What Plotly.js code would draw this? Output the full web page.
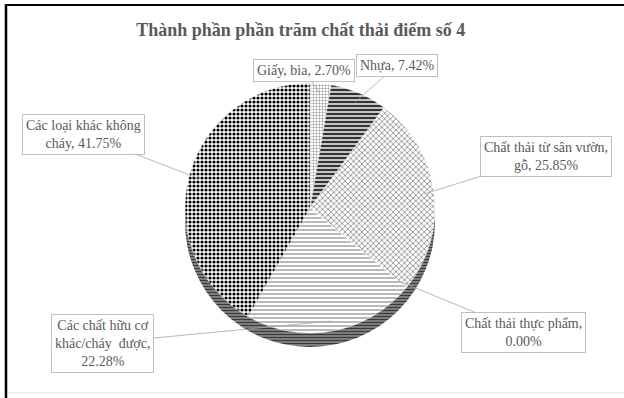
<!DOCTYPE html>
<html>
<head>
<meta charset="utf-8">
<script src="https://cdn.plot.ly/plotly-3.0.1.min.js"></script>
<style>html,body{margin:0;padding:0;background:#fff;}#chart{width:624px;height:398px;}</style>
</head>
<body>
<div id="chart"></div>
<script>
// ---- data ----
const categories = ["Giấy, bìa", "Nhựa", "Chất thải từ sân vườn, gỗ", "Chất thải thực phẩm", "Các chất hữu cơ khác/cháy được", "Các loại khác không cháy"];
const values = [2.70, 7.42, 25.85, 0.00, 22.28, 41.75];
const labelTexts = ["Giấy, bìa, 2.70%", "Nhựa, 7.42%", "Chất thải từ sân vườn,<br>gỗ, 25.85%", "Chất thải thực phẩm,<br>0.00%", "Các chất hữu cơ<br>khác/cháy  được,<br>22.28%", "Các loại khác không<br>cháy, 41.75%"];
const title = "Thành phần phần trăm chất thải điểm số 4";

// ---- layout constants ----
const W = 624, H = 398;
const cx = 310, cy = 208, r = 125, depth = 14;
const labelPos = [[304, 70], [397, 65], [546, 156], [523, 332], [102, 343], [83, 134]];
const px = x => x / W, py = y => 1 - y / H;
const SERIF = '"Liberation Serif", "Times New Roman", serif';

const patterns = {
  shape:   ["+", "-", "x", "/", "-", "."],
  fgcolor: ["#8a8a8a", "#333333", "#6a6a6a", "#8a8a8a", "#8a8a8a", "#000000"],
  bgcolor: ["#ffffff", "#c4c4c4", "#ffffff", "#ffffff", "#ffffff", "#ffffff"],
  size:    [3, 4, 4, 4, 4, 4],
  solidity:[0.3, 0.5, 0.3, 0.3, 0.3, 0.5]
};

const depthTrace = {
  type: "pie", values: [1], labels: ["depth"], sort: false,
  textinfo: "none", hoverinfo: "skip", showlegend: false,
  marker: {colors: ["#5e5e5e"], line: {color: "#5e5e5e", width: 0},
           pattern: {shape: "-", fgcolor: "#3a3a3a", bgcolor: "#8a8a8a", size: 3, solidity: 0.45}},
  domain: {x: [px(cx - r), px(cx + r)], y: [py(cy + depth + r), py(cy + depth - r)]}
};

const pieTrace = {
  type: "pie", values: values, labels: categories, sort: false,
  direction: "clockwise", rotation: 0, textinfo: "none", showlegend: false,
  marker: {colors: ["#ffffff","#c4c4c4","#ffffff","#ffffff","#ffffff","#ffffff"],
           line: {color: "#ffffff", width: 0.5}, pattern: patterns},
  domain: {x: [px(cx - r), px(cx + r)], y: [py(cy + r), py(cy - r)]}
};

// leader lines computed from slice mid-angles
const total = values.reduce((a, b) => a + b, 0);
let acc = 0;
const annotations = values.map((v, i) => {
  const mid = (acc + v / 2) / total * 2 * Math.PI;
  acc += v;
  const rr = r * 0.92;
  const hx = cx + rr * Math.sin(mid), hy = cy - rr * Math.cos(mid);
  const [tx, ty] = labelPos[i];
  return {
    xref: "paper", yref: "paper", x: px(hx), y: py(hy),
    ax: tx - hx, ay: ty - hy, showarrow: true, arrowhead: 0, arrowwidth: 0.8,
    arrowcolor: "#a6a6a6", text: labelTexts[i], align: "center",
    font: {family: SERIF, size: 14, color: "#595959"},
    bordercolor: "#bfbfbf", borderwidth: 1, borderpad: 3, bgcolor: "#ffffff"
  };
});

const layout = {
  width: W, height: H, margin: {l: 0, r: 0, t: 0, b: 0},
  paper_bgcolor: "#ffffff",
  font: {family: SERIF, color: "#595959"},
  title: {text: "<b>" + title + "</b>", x: 0.482, xanchor: "center", y: 1 - 30 / H, yanchor: "middle",
          font: {family: SERIF, size: 18, color: "#595959"}},
  annotations: annotations,
  shapes: [
    {type: "line", xref: "paper", yref: "paper", x0: px(6), x1: px(6), y0: py(4), y1: py(398), line: {color: "#000", width: 2.5}},
    {type: "line", xref: "paper", yref: "paper", x0: px(5), x1: px(624), y0: py(5), y1: py(5), line: {color: "#000", width: 2}},
    {type: "line", xref: "paper", yref: "paper", x0: px(7), x1: px(624), y0: py(393), y1: py(393), line: {color: "#e3e3e3", width: 1}}
  ]
};

Plotly.newPlot("chart", [depthTrace, pieTrace], layout, {displayModeBar: false, staticPlot: true});
</script>
</body>
</html>
